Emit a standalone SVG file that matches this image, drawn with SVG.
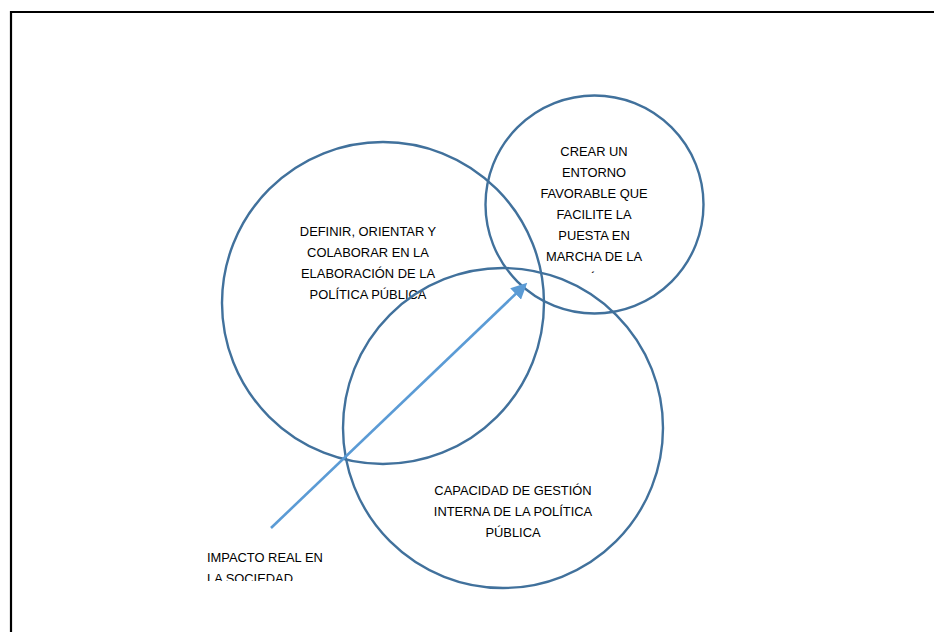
<svg xmlns="http://www.w3.org/2000/svg" width="934" height="632" viewBox="0 0 934 632">
<style>
.c{fill:none;stroke:#41719C;stroke-width:2.4}
.t{font-family:"Liberation Sans",Arial,sans-serif;font-size:12.9px;fill:#000}
.m{text-anchor:middle}
</style>
<defs>
<marker id="ah" markerWidth="6.2" markerHeight="6" refX="5" refY="3" orient="auto" markerUnits="strokeWidth">
<path d="M0,0 L6.2,3 L0,6 Z" fill="#5B9BD5"/>
</marker>
<clipPath id="clipCrear"><rect x="480" y="130" width="230" height="143"/></clipPath>
<clipPath id="clipImp"><rect x="190" y="540" width="200" height="41"/></clipPath>
</defs>
<rect width="934" height="632" fill="#fff"/>
<path d="M11,632 V12 H934" fill="none" stroke="#000" stroke-width="2.2"/>
<g id="n-definir">
<circle class="c" cx="383" cy="303" r="161"/>
<text class="t m" x="368" y="236">DEFINIR, ORIENTAR Y</text>
<text class="t m" x="368" y="257">COLABORAR EN LA</text>
<text class="t m" x="368" y="278">ELABORACIÓN DE LA</text>
<text class="t m" x="368" y="299">POLÍTICA PÚBLICA</text>
</g>
<g id="n-crear">
<circle class="c" cx="594.5" cy="204.5" r="109"/>
<g clip-path="url(#clipCrear)">
<text class="t m" x="594" y="156">CREAR UN</text>
<text class="t m" x="594" y="177">ENTORNO</text>
<text class="t m" x="594" y="198">FAVORABLE QUE</text>
<text class="t m" x="594" y="219">FACILITE LA</text>
<text class="t m" x="594" y="240">PUESTA EN</text>
<text class="t m" x="594" y="261">MARCHA DE LA</text>
<text class="t m" x="594" y="283">POLÍTICA</text>
</g>
</g>
<g id="n-capacidad">
<circle class="c" cx="503" cy="428" r="160"/>
<text class="t m" x="513" y="495">CAPACIDAD DE GESTIÓN</text>
<text class="t m" x="513" y="516">INTERNA DE LA POLÍTICA</text>
<text class="t m" x="513" y="537">PÚBLICA</text>
</g>
<g id="n-impacto" clip-path="url(#clipImp)">
<text class="t" x="207" y="562">IMPACTO REAL EN</text>
<text class="t" x="207" y="583">LA SOCIEDAD</text>
</g>
<g id="connectors">
<line x1="271" y1="528" x2="525" y2="285" stroke="#5B9BD5" stroke-width="2.6" marker-end="url(#ah)"/>
</g>
</svg>
